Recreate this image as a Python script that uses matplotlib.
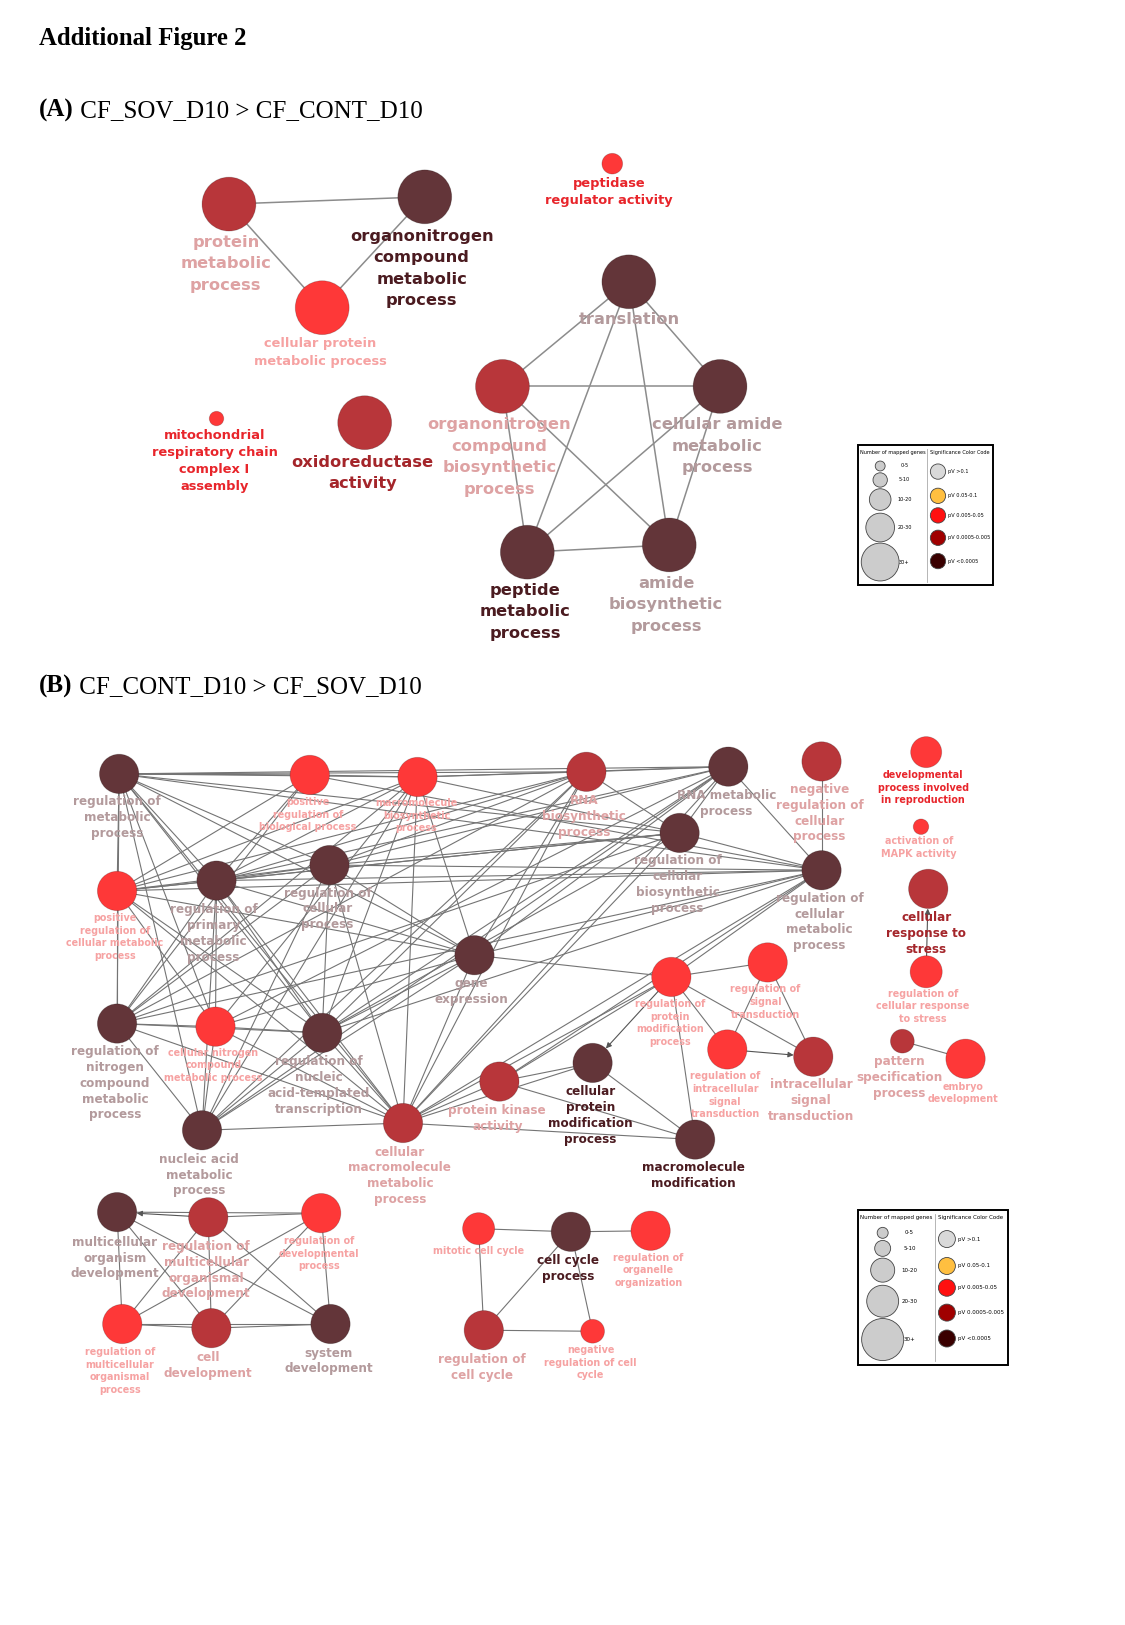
import numpy as np
import matplotlib
matplotlib.use("Agg")
import matplotlib.pyplot as plt
from matplotlib.patches import Circle, Rectangle

# layout units are the page pixels divided by SCALE
SCALE = 1.036
W, H = 1125 / SCALE, 1625 / SCALE

NODE_COL = {'d': '#633539', 'm': '#b8363a', 'b': '#fe3838'}
LAB_BOLD = {'d': '#4b1b20', 'm': '#a4252a', 'b': '#e8252b'}
LAB_FADE = {'d': '#b39a9c', 'm': '#dea2a3', 'b': '#f6a2a2'}
FONT = {'L': (11.7, 20.7), 'A2': (9.4, 16.5), 'M': (8.65, 15.3), 'S': (6.9, 12.2)}

# ---------------- panel A ----------------
a_id = ['PMP', 'ONC', 'CPM', 'PRA', 'MRC', 'OXA', 'TRA', 'ONB', 'CAM', 'PEP', 'AMB']
a_label = ['protein\nmetabolic\nprocess',
           'organonitrogen\ncompound\nmetabolic\nprocess',
           'cellular protein\nmetabolic process',
           'peptidase\nregulator activity',
           'mitochondrial\nrespiratory chain\ncomplex I\nassembly',
           'oxidoreductase\nactivity',
           'translation',
           'organonitrogen\ncompound\nbiosynthetic\nprocess',
           'cellular amide\nmetabolic\nprocess',
           'peptide\nmetabolic\nprocess',
           'amide\nbiosynthetic\nprocess']
a_tone = ['m', 'd', 'b', 'b', 'b', 'm', 'd', 'm', 'd', 'd', 'd']
a_x = [221, 410, 311, 591, 209, 352, 607, 485, 695, 509, 646]
a_y = [197, 190, 297, 158, 404, 408, 272, 373, 373, 533, 526]
a_r = [26, 26, 26, 10, 7, 26, 26, 26, 26, 26, 26]
a_lx = [218, 407, 309, 588, 207, 350, 607, 482, 692, 507, 643]
a_ly = [234, 228, 332, 177, 420, 446, 308, 410, 410, 570, 563]
a_bold = [0, 1, 0, 1, 1, 1, 0, 0, 0, 1, 0]
a_font = ['L', 'L', 'A2', 'A2', 'A2', 'L', 'L', 'L', 'L', 'L', 'L']
a_edges = [('PMP', 'ONC'), ('PMP', 'CPM'), ('CPM', 'ONC'),
           ('TRA', 'ONB'), ('TRA', 'CAM'), ('TRA', 'PEP'), ('TRA', 'AMB'),
           ('ONB', 'CAM'), ('ONB', 'PEP'), ('ONB', 'AMB'),
           ('CAM', 'PEP'), ('CAM', 'AMB'), ('PEP', 'AMB')]

# ---------------- panel B ----------------
b_id = ['RMP', 'PRBP', 'MBP', 'RNAB', 'RNAM', 'NRCP', 'PRCMP', 'RPMP', 'RCP', 'RCBP',
        'RCMP', 'GE', 'RNCMP', 'CNCMP', 'RNAT', 'NAMP', 'CMMP', 'PKA', 'CPMP', 'MM',
        'RPMOD', 'RST', 'RIST', 'IST', 'DPIR', 'MAPK', 'CRS', 'RCRS', 'PSP', 'ED',
        'MOD', 'RMCD', 'RDP', 'RMOP', 'CD', 'SD', 'MCC', 'CCP', 'ROO', 'RCC', 'NRCC']
b_label = ['regulation of\nmetabolic\nprocess',
           'positive\nregulation of\nbiological process',
           'macromolecule\nbiosynthetic\nprocess',
           'RNA\nbiosynthetic\nprocess',
           'RNA metabolic\nprocess',
           'negative\nregulation of\ncellular\nprocess',
           'positive\nregulation of\ncellular metabolic\nprocess',
           'regulation of\nprimary\nmetabolic\nprocess',
           'regulation of\ncellular\nprocess',
           'regulation of\ncellular\nbiosynthetic\nprocess',
           'regulation of\ncellular\nmetabolic\nprocess',
           'gene\nexpression',
           'regulation of\nnitrogen\ncompound\nmetabolic\nprocess',
           'cellular nitrogen\ncompound\nmetabolic process',
           'regulation of\nnucleic\nacid-templated\ntranscription',
           'nucleic acid\nmetabolic\nprocess',
           'cellular\nmacromolecule\nmetabolic\nprocess',
           'protein kinase\nactivity',
           'cellular\nprotein\nmodification\nprocess',
           'macromolecule\nmodification',
           'regulation of\nprotein\nmodification\nprocess',
           'regulation of\nsignal\ntransduction',
           'regulation of\nintracellular\nsignal\ntransduction',
           'intracellular\nsignal\ntransduction',
           'developmental\nprocess involved\nin reproduction',
           'activation of\nMAPK activity',
           'cellular\nresponse to\nstress',
           'regulation of\ncellular response\nto stress',
           'pattern\nspecification\nprocess',
           'embryo\ndevelopment',
           'multicellular\norganism\ndevelopment',
           'regulation of\nmulticellular\norganismal\ndevelopment',
           'regulation of\ndevelopmental\nprocess',
           'regulation of\nmulticellular\norganismal\nprocess',
           'cell\ndevelopment',
           'system\ndevelopment',
           'mitotic cell cycle',
           'cell cycle\nprocess',
           'regulation of\norganelle\norganization',
           'regulation of\ncell cycle',
           'negative\nregulation of cell\ncycle']
b_tone = ['d', 'b', 'b', 'm', 'd', 'm', 'b', 'd', 'd', 'd',
          'd', 'd', 'd', 'b', 'd', 'd', 'm', 'm', 'd', 'd',
          'b', 'b', 'b', 'm', 'b', 'b', 'm', 'b', 'm', 'b',
          'd', 'm', 'b', 'b', 'm', 'd', 'b', 'd', 'b', 'm', 'b']
b_x = [115, 299, 403, 566, 703, 793, 113, 209, 318, 656,
       793, 458, 113, 208, 311, 195, 389, 482, 572, 671,
       648, 741, 702, 785, 894, 889, 896, 894, 871, 932,
       113, 201, 310, 118, 204, 319, 462, 551, 628, 467, 572]
b_y = [747, 748, 750, 745, 740, 735, 860, 850, 835, 804,
       840, 922, 988, 991, 997, 1091, 1084, 1044, 1026, 1100,
       943, 929, 1013, 1020, 726, 798, 858, 938, 1005, 1022,
       1170, 1175, 1171, 1278, 1282, 1278, 1186, 1189, 1188, 1284, 1285]
b_r = [19, 19, 19, 19, 19, 19, 19, 19, 19, 19,
       19, 19, 19, 19, 19, 19, 19, 19, 19, 19,
       19, 19, 19, 19, 15, 7.5, 19, 15.5, 11.5, 19,
       19, 19, 19, 19, 19, 19, 15.5, 19, 19, 19, 11.5]
b_lx = [113, 297, 402, 564, 701, 791, 111, 206, 316, 654,
        791, 455, 111, 206, 308, 192, 386, 480, 570, 669,
        647, 739, 700, 783, 891, 887, 894, 891, 868, 930,
        111, 199, 308, 116, 201, 317, 462, 548, 626, 465, 570]
b_ly = [774, 774, 775, 773, 768, 762, 886, 878, 862, 831,
        867, 949, 1015, 1016, 1025, 1119, 1112, 1072, 1054, 1127,
        969, 955, 1039, 1047, 748, 812, 886, 959, 1025, 1049,
        1199, 1203, 1198, 1305, 1310, 1306, 1208, 1217, 1214, 1312, 1303]
b_bold = [0] * 41
for k in ('CPMP', 'MM', 'DPIR', 'CRS', 'CCP'):
    b_bold[b_id.index(k)] = 1
b_font = ['S' if t == 'b' else 'M' for t in b_tone]

b_edges = [
    ('RMP', 'PRBP'), ('RMP', 'MBP'), ('RMP', 'RNAB'), ('RMP', 'RNAM'), ('RMP', 'RCBP'),
    ('RMP', 'RCMP'), ('RMP', 'RPMP'), ('RMP', 'RCP'), ('RMP', 'PRCMP'), ('RMP', 'RNCMP'),
    ('RMP', 'GE'), ('RMP', 'RNAT'), ('RMP', 'NAMP'), ('RMP', 'CMMP'), ('RMP', 'CNCMP'),
    ('PRBP', 'MBP'), ('PRBP', 'PRCMP'), ('PRBP', 'RPMP'), ('PRBP', 'RNCMP'), ('PRBP', 'RCMP'),
    ('MBP', 'RNAB'), ('MBP', 'RNAM'), ('MBP', 'RCBP'), ('MBP', 'GE'), ('MBP', 'RNAT'),
    ('MBP', 'CMMP'), ('MBP', 'NAMP'), ('MBP', 'CNCMP'), ('MBP', 'RPMP'), ('MBP', 'PRCMP'),
    ('MBP', 'RNCMP'),
    ('RNAB', 'RNAM'), ('RNAB', 'RCBP'), ('RNAB', 'GE'), ('RNAB', 'RNAT'), ('RNAB', 'NAMP'),
    ('RNAB', 'RPMP'), ('RNAB', 'RCP'), ('RNAB', 'PRCMP'), ('RNAB', 'CMMP'), ('RNAB', 'RNCMP'),
    ('RNAM', 'RCBP'), ('RNAM', 'RCMP'), ('RNAM', 'GE'), ('RNAM', 'NAMP'), ('RNAM', 'RNAT'),
    ('RNAM', 'RPMP'), ('RNAM', 'RCP'), ('RNAM', 'CMMP'), ('RNAM', 'CNCMP'),
    ('NRCP', 'RCMP'),
    ('RCBP', 'RCMP'), ('RCBP', 'RNAT'), ('RCBP', 'RPMP'), ('RCBP', 'RCP'), ('RCBP', 'PRCMP'),
    ('RCBP', 'RNCMP'), ('RCBP', 'CMMP'),
    ('RCMP', 'RPMP'), ('RCMP', 'RCP'), ('RCMP', 'PRCMP'), ('RCMP', 'RNCMP'), ('RCMP', 'RNAT'),
    ('RCMP', 'GE'), ('RCMP', 'CMMP'), ('RCMP', 'PKA'), ('RCMP', 'RPMOD'),
    ('RPMP', 'RCP'), ('RPMP', 'PRCMP'), ('RPMP', 'RNCMP'), ('RPMP', 'CNCMP'), ('RPMP', 'RNAT'),
    ('RPMP', 'NAMP'), ('RPMP', 'GE'), ('RPMP', 'CMMP'),
    ('RCP', 'PRCMP'), ('RCP', 'RNCMP'), ('RCP', 'RNAT'), ('RCP', 'GE'), ('RCP', 'CMMP'),
    ('RCP', 'NAMP'),
    ('PRCMP', 'RNCMP'), ('PRCMP', 'CNCMP'), ('PRCMP', 'GE'), ('PRCMP', 'CMMP'), ('PRCMP', 'RNAT'),
    ('GE', 'RNAT'), ('GE', 'NAMP'), ('GE', 'CMMP'), ('GE', 'CNCMP'), ('GE', 'RPMOD'),
    ('RNCMP', 'CNCMP'), ('RNCMP', 'RNAT'), ('RNCMP', 'NAMP'), ('RNCMP', 'CMMP'),
    ('CNCMP', 'RNAT'), ('CNCMP', 'NAMP'), ('CNCMP', 'CMMP'),
    ('RNAT', 'NAMP'), ('RNAT', 'CMMP'), ('NAMP', 'CMMP'),
    ('CMMP', 'PKA'), ('CMMP', 'CPMP'), ('CMMP', 'MM'), ('CMMP', 'RPMOD'),
    ('PKA', 'CPMP'), ('PKA', 'MM'), ('PKA', 'RPMOD'), ('CPMP', 'MM'),
    ('RPMOD', 'RST'), ('RPMOD', 'RIST'), ('RPMOD', 'MM'), ('RPMOD', 'IST'),
    ('RST', 'RIST'), ('RST', 'IST'),
    ('PSP', 'ED'),
    ('MOD', 'RDP'), ('MOD', 'SD'), ('MOD', 'RMOP'), ('MOD', 'CD'),
    ('RMCD', 'RMOP'), ('RMCD', 'CD'), ('RMCD', 'SD'), ('RMCD', 'RDP'),
    ('RDP', 'RMOP'), ('RDP', 'CD'), ('RDP', 'SD'),
    ('RMOP', 'CD'), ('RMOP', 'SD'), ('CD', 'SD'),
    ('MCC', 'CCP'), ('CCP', 'ROO'), ('MCC', 'RCC'), ('RCC', 'CCP'), ('RCC', 'NRCC'),
    ('CCP', 'NRCC')]
b_arrows = [('RPMOD', 'CPMP'), ('RIST', 'IST'), ('RCRS', 'CRS'), ('RMCD', 'MOD')]

# ---------------- legend ----------------
size_labels = ['0-5', '5-10', '10-20', '20-30', '30+']
size_r = [5.3, 7.7, 11.6, 15.4, 20.3]
sig_labels = ['pV >0.1', 'pV 0.05-0.1', 'pV 0.005-0.05', 'pV 0.0005-0.005', 'pV <0.0005']
sig_colors = ['#d9d9d9', '#ffbf40', '#ff1010', '#a00000', '#3a0000']


fig = plt.figure(figsize=(11.25, 16.25), dpi=100)
ax = fig.add_axes([0, 0, 1, 1])
ax.set_xlim(0, W)
ax.set_ylim(H, 0)
ax.axis('off')


def draw_net(ids, labels, tones, xs, ys, rs, lxs, lys, bolds, fonts, edges, arrows,
             lw, ecol):
    pos = {k: np.array([x, y], float) for k, x, y in zip(ids, xs, ys)}
    rad = dict(zip(ids, rs))
    for a, b in edges:
        p, q = pos[a], pos[b]
        ax.plot([p[0], q[0]], [p[1], q[1]], color=ecol, lw=lw, zorder=1)
    for a, b in arrows:
        p, q = pos[a], pos[b]
        u = (q - p) / np.hypot(*(q - p))
        tip = q - u * rad[b]
        ax.annotate('', xy=tip, xytext=p,
                    arrowprops=dict(arrowstyle='-|>', color='#555555', lw=lw,
                                    shrinkA=0, shrinkB=0, mutation_scale=8),
                    zorder=1)
    for k, t in zip(ids, tones):
        ax.add_patch(Circle(pos[k], rad[k], fc=NODE_COL[t], ec='#00000033',
                            lw=0.6, zorder=2))
    for lab, t, lx, ly, bo, f in zip(labels, tones, lxs, lys, bolds, fonts):
        fs, sp = FONT[f]
        col = LAB_BOLD[t] if bo else LAB_FADE[t]
        for i, line in enumerate(lab.split('\n')):
            ax.text(lx, ly + i * sp, line, ha='center', va='center', fontsize=fs,
                    fontweight='bold', color=col, family='DejaVu Sans', zorder=3)


def draw_legend(x0, y0, s, fs):
    ax.add_patch(Rectangle((x0, y0), 145 * s, 150 * s, fc='white', ec='black',
                           lw=1.4, zorder=4))
    ax.plot([x0 + 74.5 * s] * 2, [y0 + 4 * s, y0 + 146 * s], color='#aaaaaa',
            lw=0.6, zorder=5)
    ax.text(x0 + 37.5 * s, y0 + 7 * s, 'Number of mapped genes', ha='center',
            va='center', fontsize=fs, zorder=5)
    ax.text(x0 + 109 * s, y0 + 7 * s, 'Significance Color Code', ha='center',
            va='center', fontsize=fs, zorder=5)
    for lab, r, dy in zip(size_labels, size_r, [22, 37, 58, 88, 125]):
        ax.add_patch(Circle((x0 + 24 * s, y0 + dy * s), r * s, fc='#cccccc',
                            ec='#444444', lw=0.6, zorder=5))
        ax.text(x0 + 50 * s, y0 + dy * s, lab, ha='center', va='center',
                fontsize=fs, zorder=5)
    for lab, c, dy in zip(sig_labels, sig_colors, [28, 54, 75, 99, 124]):
        ax.add_patch(Circle((x0 + 86 * s, y0 + dy * s), 8.2 * s, fc=c,
                            ec='#444444', lw=0.6, zorder=5))
        ax.text(x0 + 97 * s, y0 + dy * s, lab, ha='left', va='center',
                fontsize=fs, zorder=5)


def heading(y, tag, rest):
    t = ax.text(38, y, tag, ha='left', va='center', fontsize=18, fontweight='bold',
                family='Liberation Serif')
    fig.canvas.draw()
    bb = t.get_window_extent().transformed(ax.transData.inverted())
    ax.text(bb.x1, y, ' ' + rest, ha='left', va='center', fontsize=18,
            family='Liberation Serif')


ax.text(38, 37, 'Additional Figure 2', ha='left', va='center', fontsize=17.8,
        fontweight='bold', family='Liberation Serif')
heading(107, '(A)', 'CF_SOV_D10 > CF_CONT_D10')
heading(663, '(B)', 'CF_CONT_D10 > CF_SOV_D10')

draw_net(a_id, a_label, a_tone, a_x, a_y, a_r, a_lx, a_ly, a_bold, a_font,
         a_edges, [], 1.1, '#8c8c8c')
draw_net(b_id, b_label, b_tone, b_x, b_y, b_r, b_lx, b_ly, b_bold, b_font,
         b_edges, b_arrows, 0.8, '#747474')

draw_legend(828, 430, 0.9, 3.6)
draw_legend(828, 1168, 1.0, 4.0)

fig.savefig('out.png', dpi=100, facecolor='white')
